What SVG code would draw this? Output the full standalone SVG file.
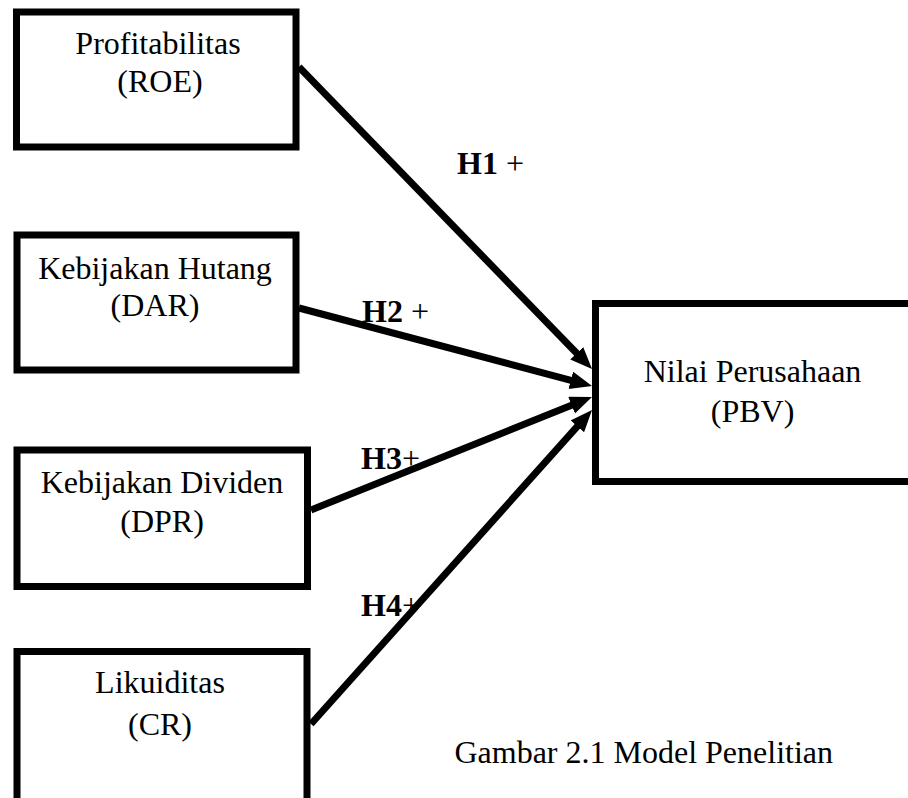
<svg xmlns="http://www.w3.org/2000/svg" width="908" height="798" viewBox="0 0 908 798">
  <style>
    .box { fill: #ffffff; stroke: #000000; stroke-width: 7; }
    .txt { font-family: "Liberation Serif", "Times New Roman", serif; font-size: 32px; fill: #000000; text-anchor: middle; }
    .lbl { font-family: "Liberation Serif", "Times New Roman", serif; font-size: 32px; font-weight: bold; fill: #000000; }
    .plus { font-weight: normal; }
    .cap { font-family: "Liberation Serif", "Times New Roman", serif; font-size: 32px; fill: #000000; text-anchor: end; }
    .conn { stroke: #000000; stroke-width: 7; fill: none; marker-end: url(#arrow); }
  </style>
  <defs>
    <marker id="arrow" markerUnits="userSpaceOnUse" markerWidth="24" markerHeight="20" refX="8" refY="9" orient="auto">
      <path d="M0,0 L22,9 L0,18 z" fill="#000000"/>
    </marker>
  </defs>
  <rect width="908" height="798" fill="#ffffff"/>

  <g id="connectors">
    <line class="conn" x1="299" y1="67" x2="582.3" y2="359.0"/>
    <line class="conn" x1="299" y1="308" x2="578.5" y2="382.4"/>
    <line class="conn" x1="311" y1="510" x2="579.0" y2="402.2"/>
    <line class="conn" x1="311" y1="724" x2="582.7" y2="420.4"/>
  </g>

  <g id="node-roe">
    <rect class="box" x="16.5" y="12" width="279.5" height="135"/>
    <text class="txt" x="158" y="54">Profitabilitas</text>
    <text class="txt" x="160" y="92">(ROE)</text>
  </g>

  <g id="node-dar">
    <rect class="box" x="17" y="235" width="279" height="135"/>
    <text class="txt" x="155" y="279">Kebijakan Hutang</text>
    <text class="txt" x="155" y="316">(DAR)</text>
  </g>

  <g id="node-dpr">
    <rect class="box" x="17" y="450" width="290.5" height="136.5"/>
    <text class="txt" x="162" y="493">Kebijakan Dividen</text>
    <text class="txt" x="162" y="532">(DPR)</text>
  </g>

  <g id="node-cr">
    <rect class="box" x="17" y="651.5" width="290" height="152"/>
    <text class="txt" x="160" y="693">Likuiditas</text>
    <text class="txt" x="160" y="735">(CR)</text>
  </g>

  <g id="node-pbv">
    <rect class="box" x="595.5" y="303.5" width="330" height="178"/>
    <text class="txt" x="752.5" y="382">Nilai Perusahaan</text>
    <text class="txt" x="752.5" y="422">(PBV)</text>
  </g>

  <g id="labels">
    <text class="lbl" x="457" y="174">H1 <tspan class="plus">+</tspan></text>
    <text class="lbl" x="362" y="322">H2 <tspan class="plus">+</tspan></text>
    <text class="lbl" x="361" y="469">H3<tspan class="plus">+</tspan></text>
    <text class="lbl" x="361" y="616">H4<tspan class="plus">+</tspan></text>
  </g>

  <text class="cap" x="833" y="763">Gambar 2.1 Model Penelitian</text>
</svg>
